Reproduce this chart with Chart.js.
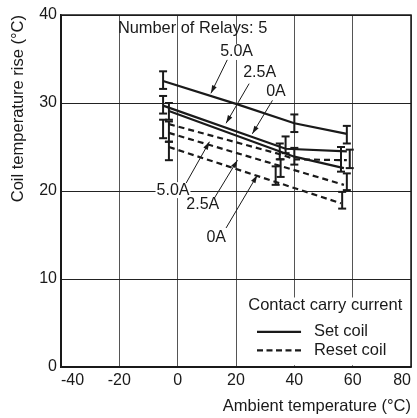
<!DOCTYPE html>
<html>
<head>
<meta charset="utf-8">
<script src="https://cdn.jsdelivr.net/npm/chart.js@4/dist/chart.umd.min.js"></script>
<style>
  html, body { margin: 0; padding: 0; background: #fff; }
</style>
</head>
<body>
<canvas id="chart" width="417" height="418"></canvas>
<script>
// values
const setCoil50X = [-5, 20, 40, 58];
const setCoil50Y = [32.5, 29.9, 27.7, 26.5];
const setCoil25X = [-5, 37, 58];
const setCoil25Y = [29.7, 24.8, 24.5];
const setCoil0X = [-3, 40, 57];
const setCoil0Y = [29.1, 23.9, 22.6];

const resetCoil50X = [-3, 36, 40, 58];
const resetCoil50Y = [27.6, 24.1, 23.6, 23.5];
const resetCoil25X = [-3, 57];
const resetCoil25Y = [26.6, 20.7];
const resetCoil0X = [-3, 56];
const resetCoil0Y = [25.0, 18.6];

// error bars: x, low, high
const errX    = [-5,   40,   58,   -5,   37,   59,   -3,   40,   56,   -5,   35,   -3,   35.3, 58,   -3,   33.6, 56.4];
const errLow  = [31.6, 26.7, 25.4, 28.8, 24.3, 22.6, 28.1, 23.0, 22.2, 26.0, 23.6, 25.6, 21.6, 20.1, 23.5, 20.7, 18.0];
const errHigh = [33.6, 28.7, 27.4, 30.8, 26.2, 24.7, 30.0, 24.9, 25.0, 28.1, 25.4, 27.9, 23.6, 22.0, 25.6, 22.8, 19.9];

const xMin = -40, xMax = 80, xStep = 20;
const yMin = 0, yMax = 40, yStep = 10;

const ink = "#1a1a1a";
const font = "'Liberation Sans', Arial, sans-serif";

function series(xs, ys, dashed) {
  return {
    data: xs.map((x, i) => ({ x: x, y: ys[i] })),
    showLine: true,
    borderColor: ink,
    borderWidth: 2.2,
    borderDash: dashed ? [6, 4] : [],
    pointRadius: 0,
    tension: 0,
  };
}

const datasets = [
  series(setCoil50X, setCoil50Y, false),
  series(setCoil25X, setCoil25Y, false),
  series(setCoil0X, setCoil0Y, false),
  series(resetCoil50X, resetCoil50Y, true),
  series(resetCoil25X, resetCoil25Y, true),
  series(resetCoil0X, resetCoil0Y, true),
];

errX.forEach((x, i) => {
  datasets.push({
    data: [{ x: x, y: errLow[i] }, { x: x, y: errHigh[i] }],
    showLine: true,
    borderColor: ink,
    borderWidth: 2,
    pointStyle: "line",
    pointRadius: 4,
    pointBorderWidth: 2,
    pointBorderColor: ink,
  });
});

// text, arrows and legend drawn in data units
const decor = {
  id: "decor",
  beforeDatasetsDraw(chart) {
    const { ctx, scales } = chart;
    const px = (v) => scales.x.getPixelForValue(v);
    const py = (v) => scales.y.getPixelForValue(v);
    ctx.save();

    // white legend panel over the grid
    ctx.fillStyle = "#fff";
    ctx.fillRect(px(22.5), py(7.9), px(80) - px(22.5), py(0.2) - py(7.9));

    ctx.font = "16px " + font;
    ctx.textBaseline = "middle";

    const labels = [
      { t: "5.0A", x: 20.2, y: 35.8 },
      { t: "2.5A", x: 28.1, y: 33.5 },
      { t: "0A", x: 33.7, y: 31.25 },
      { t: "5.0A", x: -1.6, y: 20.1 },
      { t: "2.5A", x: 8.6, y: 18.4 },
      { t: "0A", x: 13.2, y: 14.7 },
    ];
    ctx.textAlign = "center";
    labels.forEach((l) => {
      const w = ctx.measureText(l.t).width;
      ctx.fillStyle = "#fff";
      ctx.fillRect(px(l.x) - w / 2 - 1, py(l.y) - 8, w + 2, 16);
      ctx.fillStyle = ink;
      ctx.fillText(l.t, px(l.x), py(l.y));
    });

    const arrows = [
      [17.0, 34.9, 11.4, 31.1],
      [24.5, 32.2, 16.6, 27.7],
      [32.5, 30.3, 25.6, 26.5],
      [2.9, 20.9, 10.9, 25.6],
      [12.6, 19.2, 20.5, 23.5],
      [16.6, 15.8, 27.3, 21.8],
    ];
    ctx.strokeStyle = ink;
    ctx.fillStyle = ink;
    ctx.lineWidth = 1;
    arrows.forEach((a) => {
      const x1 = px(a[0]), y1 = py(a[1]), x2 = px(a[2]), y2 = py(a[3]);
      const ang = Math.atan2(y2 - y1, x2 - x1);
      ctx.beginPath();
      ctx.moveTo(x1, y1);
      ctx.lineTo(x2, y2);
      ctx.stroke();
      ctx.beginPath();
      ctx.moveTo(x2, y2);
      ctx.lineTo(x2 - 8 * Math.cos(ang) + 2.5 * Math.sin(ang), y2 - 8 * Math.sin(ang) - 2.5 * Math.cos(ang));
      ctx.lineTo(x2 - 8 * Math.cos(ang) - 2.5 * Math.sin(ang), y2 - 8 * Math.sin(ang) + 2.5 * Math.cos(ang));
      ctx.closePath();
      ctx.fill();
    });

    ctx.textAlign = "left";
    ctx.font = "16.4px " + font;
    ctx.fillText("Number of Relays: 5", px(-20.5), py(38.5));

    // legend
    ctx.font = "16.5px " + font;
    ctx.fillText("Contact carry current", px(24.2), py(6.95));
    ctx.fillText("Set coil", px(46.7), py(4.0));
    ctx.fillText("Reset coil", px(46.7), py(1.9));
    ctx.lineWidth = 2.2;
    ctx.beginPath();
    ctx.moveTo(px(27.2), py(4.0));
    ctx.lineTo(px(42.3), py(4.0));
    ctx.stroke();
    ctx.setLineDash([6, 3.5]);
    ctx.beginPath();
    ctx.moveTo(px(27.2), py(1.9));
    ctx.lineTo(px(42.3), py(1.9));
    ctx.stroke();
    ctx.restore();
  },
  afterDraw(chart) {
    const { ctx, chartArea } = chart;
    ctx.save();
    ctx.strokeStyle = ink;
    ctx.lineWidth = 1.5;
    ctx.strokeRect(chartArea.left, chartArea.top, chartArea.right - chartArea.left, chartArea.bottom - chartArea.top);
    ctx.restore();
  },
};

new Chart(document.getElementById("chart"), {
  type: "scatter",
  data: { datasets: datasets },
  options: {
    responsive: false,
    animation: false,
    events: [],
    layout: { padding: { top: 15, right: 6, left: 0, bottom: 0 } },
    plugins: { legend: { display: false }, tooltip: { enabled: false } },
    scales: {
      x: {
        type: "linear",
        min: xMin,
        max: xMax,
        afterFit: (s) => { s.height = 51; s.paddingLeft = 0; s.paddingRight = 0; },
        ticks: { stepSize: xStep, color: ink, font: { family: font, size: 16 }, padding: 4, align: "inner", maxRotation: 0 },
        grid: { color: (c) => (c.tick && c.tick.value === xMin ? ink : "#555"), lineWidth: 1, drawTicks: false },
        border: { color: ink, width: 1.5 },
        title: { display: true, text: "Ambient temperature (°C)", align: "end", color: ink, font: { family: font, size: 16.5 }, padding: { top: 0, bottom: 2 } },
      },
      y: {
        type: "linear",
        min: yMin,
        max: yMax,
        afterFit: (s) => { s.width = 61; },
        ticks: { stepSize: yStep, color: ink, font: { family: font, size: 16 }, padding: 4 },
        grid: { color: "#222", lineWidth: 1, drawTicks: false },
        border: { color: ink, width: 1.5 },
        title: { display: true, text: "Coil temperature rise (°C)", align: "end", color: ink, font: { family: font, size: 16.5 }, padding: { top: 9, bottom: 0 } },
      },
    },
  },
  plugins: [decor],
});
</script>
</body>
</html>
